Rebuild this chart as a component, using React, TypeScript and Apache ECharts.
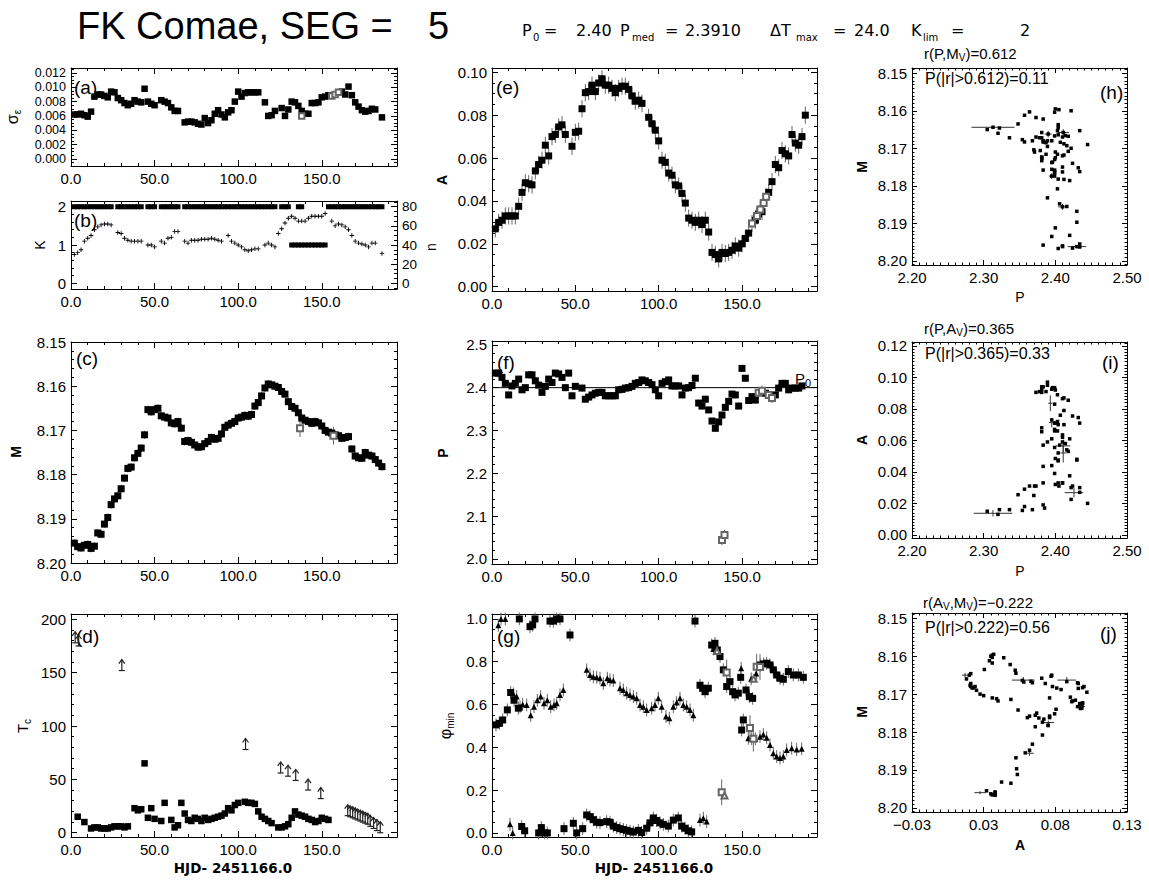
import React, { useEffect, useRef } from 'react';
import * as echarts from 'echarts';

const FONT = '"Liberation Sans", Arial, Helvetica, sans-serif';
const WIDE = '"DejaVu Sans", "Liberation Sans", sans-serif';
const W = 1149;
const H = 881;

// ---------------- tick values ----------------
const X_TICKS_T = [0, 50, 100, 150];
const Y_TICKS_SIG = [0, 0.002, 0.004, 0.006, 0.008, 0.01, 0.012];
const Y_TICKS_K = [0, 1, 2];
const Y_TICKS_N = [0, 20, 40, 60, 80];
const Y_TICKS_M = [8.15, 8.16, 8.17, 8.18, 8.19, 8.2];
const Y_TICKS_TC = [0, 50, 100, 150, 200];
const Y_TICKS_AMP = [0, 0.02, 0.04, 0.06, 0.08, 0.1];
const Y_TICKS_P = [2.0, 2.1, 2.2, 2.3, 2.4, 2.5];
const Y_TICKS_PHI = [0, 0.2, 0.4, 0.6, 0.8, 1.0];
const X_TICKS_P = [2.2, 2.3, 2.4, 2.5];
const Y_TICKS_AMP2 = [0, 0.02, 0.04, 0.06, 0.08, 0.1, 0.12];
const X_TICKS_AMP = [-0.025, 0.025, 0.075, 0.125];
const X_LABELS_AMP = ['\u22120.03', '0.03', '0.08', '0.13'];

// ---------------- (a) sigma_e vs t ----------------
const SIG_A = [
  [2, 0.0062], [4, 0.0062], [6, 0.0063], [8, 0.0061], [10, 0.0059], [12, 0.0066], [14, 0.0087], [16, 0.009],
  [18, 0.009], [20, 0.0088], [22, 0.0086], [24, 0.0094], [26, 0.0093], [28, 0.0085], [30, 0.0082], [32, 0.0078],
  [34, 0.0075], [36, 0.0077], [38, 0.0082], [40, 0.008], [42, 0.0079], [44, 0.0098], [46, 0.008], [48, 0.0077],
  [50, 0.0075], [54, 0.0082], [56, 0.008], [58, 0.0078], [60, 0.0072], [62, 0.0067], [64, 0.0067], [68, 0.0051],
  [70, 0.0052], [72, 0.0052], [74, 0.0051], [76, 0.0049], [78, 0.0048], [80, 0.0057], [82, 0.005], [84, 0.0054],
  [86, 0.0063], [88, 0.0068], [90, 0.0062], [92, 0.0058], [94, 0.0065], [96, 0.0068], [98, 0.008], [100, 0.0094],
  [102, 0.0087], [104, 0.0092], [106, 0.0093], [108, 0.0093], [110, 0.0093], [112, 0.0093], [116, 0.0079],
  [118, 0.006], [120, 0.0061], [122, 0.0067], [126, 0.0071], [128, 0.006], [130, 0.0069], [132, 0.008],
  [134, 0.0079], [136, 0.0074], [138, 0.0067], [140, 0.0063], [142, 0.0063], [144, 0.0078], [146, 0.0078],
  [148, 0.0079], [150, 0.0086], [152, 0.0087], [154, 0.0089], [162, 0.0094], [164, 0.009], [166, 0.0101],
  [168, 0.0089], [170, 0.0079], [172, 0.0073], [174, 0.0068], [176, 0.0066], [178, 0.0067], [180, 0.007],
  [182, 0.0069], [186, 0.0058],
];
const SIG_A_OPEN = [[138, 0.006], [156, 0.0088], [158, 0.009], [160, 0.0093]];

// ---------------- (b) K and n vs t ----------------
const K_TWO_T = [
  2, 4, 6, 8, 10, 12, 14, 16, 18, 20, 22, 24, 28, 30, 32, 34, 36, 38, 40, 42, 46, 48, 50, 54, 56, 58, 60, 62, 64,
  68, 70, 72, 74, 76, 78, 80, 82, 84, 86, 88, 90, 92, 94, 96, 98, 100, 102, 104, 106, 108, 110, 112, 114, 116,
  118, 120, 122, 126, 128, 130, 136, 138, 154, 156, 158, 160, 162, 164, 166, 168, 170, 172, 174, 176, 178, 180,
  182, 184, 186,
];
const K_ONE_T = [132, 134, 136, 138, 140, 142, 144, 146, 148, 150, 152];
const N_B = [
  [2, 30], [4, 32], [6, 35], [8, 44], [10, 47], [12, 50], [14, 56], [16, 59], [18, 61], [20, 62], [22, 62],
  [24, 61], [28, 53], [30, 52], [32, 47], [34, 45], [36, 44], [38, 44], [40, 44], [42, 44], [46, 40], [48, 40],
  [50, 38], [54, 44], [56, 42], [58, 47], [60, 48], [62, 54], [64, 54], [68, 44], [70, 42], [72, 45], [74, 45],
  [76, 45], [78, 46], [80, 46], [82, 46], [84, 47], [86, 46], [88, 45], [90, 44], [94, 50], [96, 44], [98, 42],
  [100, 40], [102, 38], [104, 35], [106, 34], [108, 35], [110, 36], [112, 36], [116, 40], [118, 42], [120, 40],
  [122, 38], [124, 52], [126, 57], [128, 63], [130, 68], [132, 70], [134, 68], [136, 65], [138, 65], [140, 65],
  [142, 68], [144, 70], [146, 70], [148, 70], [150, 70], [152, 73], [156, 65], [158, 60], [160, 62], [162, 61],
  [164, 59], [166, 56], [168, 50], [170, 44], [172, 42], [174, 41], [176, 40], [178, 38], [180, 42], [182, 42],
  [186, 31],
];

// ---------------- (c) M vs t ----------------
const M_C = [
  [2, 8.1955], [4, 8.1963], [6, 8.1966], [8, 8.196], [10, 8.1958], [12, 8.1967], [14, 8.1962], [16, 8.1932],
  [18, 8.1935], [20, 8.1912], [22, 8.1897], [24, 8.1868], [26, 8.1855], [28, 8.1848], [30, 8.1832], [32, 8.1808],
  [34, 8.1786], [36, 8.1783], [38, 8.1762], [40, 8.1752], [42, 8.174], [44, 8.171], [46, 8.1653], [48, 8.1658],
  [50, 8.1653], [52, 8.165], [54, 8.1667], [56, 8.167], [58, 8.1672], [60, 8.1683], [62, 8.1685], [64, 8.168],
  [66, 8.1695], [68, 8.1725], [70, 8.1723], [72, 8.1727], [74, 8.1733], [76, 8.1738], [78, 8.1737], [80, 8.173],
  [82, 8.1725], [84, 8.1716], [86, 8.172], [88, 8.1718], [90, 8.1708], [92, 8.1693], [94, 8.1688], [96, 8.1684],
  [98, 8.168], [100, 8.1672], [102, 8.167], [104, 8.1666], [106, 8.1668], [108, 8.1664], [110, 8.1645],
  [112, 8.1637], [114, 8.1622], [116, 8.1604], [118, 8.1595], [120, 8.1597], [122, 8.16], [124, 8.1603],
  [126, 8.1612], [128, 8.1618], [130, 8.1635], [132, 8.1646], [134, 8.165], [136, 8.166], [138, 8.1672],
  [140, 8.1677], [142, 8.168], [144, 8.1684], [146, 8.168], [148, 8.1683], [150, 8.169], [152, 8.17],
  [154, 8.1704], [156, 8.1706], [158, 8.171], [160, 8.1712], [162, 8.1718], [164, 8.1716], [166, 8.1714],
  [168, 8.1742], [170, 8.1758], [172, 8.1762], [174, 8.1763], [176, 8.175], [178, 8.1756], [180, 8.1758],
  [182, 8.1766], [184, 8.1774], [186, 8.1782],
];
const M_C_OPEN = [[137, 8.1695], [157, 8.1712]];
const ERR_M = 0.0009;

// ---------------- (d) Tc vs t ----------------
const TC_SQ = [
  [4, 15], [8, 10], [12, 4], [14, 5], [16, 5], [18, 4], [20, 4], [22, 4], [24, 5], [26, 6], [28, 6], [30, 6],
  [32, 5], [34, 6], [38, 23], [40, 21], [42, 22], [44, 65], [46, 14], [48, 23], [50, 13], [54, 11], [56, 28],
  [60, 12], [62, 5], [64, 7], [66, 28], [68, 18], [70, 12], [72, 11], [74, 14], [76, 13], [78, 11], [80, 14],
  [82, 12], [84, 13], [86, 14], [88, 15], [90, 16], [92, 18], [94, 23], [96, 21], [98, 26], [100, 28],
  [104, 29], [106, 28], [108, 28], [110, 27], [112, 20], [114, 15], [116, 13], [118, 11], [120, 9], [124, 5],
  [126, 5], [128, 6], [130, 8], [132, 14], [134, 20], [136, 17], [138, 16], [140, 15], [142, 13], [144, 12],
  [146, 10], [148, 11], [150, 14], [152, 13], [154, 12],
];
const TC_LIM = [
  [2.5, 178], [4.5, 175], [30.4, 152], [104.4, 78], [125.4, 56], [129.8, 53], [134.4, 49], [141.8, 40],
  [149.4, 32], [165.5, 16], [167, 15], [168.5, 14], [170, 13], [171.5, 12], [173, 11], [174.5, 10], [176, 9],
  [177.5, 8], [179, 6], [181, 4], [183, 2], [185, 0],
];

// ---------------- (e) A vs t ----------------
const A_E = [
  [2, 0.027], [4, 0.03], [6, 0.031], [8, 0.033], [10, 0.033], [12, 0.033], [14, 0.033], [16, 0.0375],
  [18, 0.044], [20, 0.0485], [22, 0.048], [24, 0.0475], [26, 0.054], [28, 0.057], [30, 0.059], [32, 0.066],
  [34, 0.061], [36, 0.07], [38, 0.071], [40, 0.0745], [42, 0.0755], [44, 0.071], [48, 0.0655], [50, 0.072],
  [52, 0.0725], [54, 0.083], [56, 0.0905], [58, 0.091], [60, 0.094], [62, 0.091], [64, 0.095], [66, 0.097],
  [68, 0.094], [70, 0.094], [72, 0.0925], [74, 0.0905], [76, 0.0925], [78, 0.0935], [80, 0.0935], [82, 0.092],
  [84, 0.089], [86, 0.0865], [88, 0.087], [90, 0.0855], [94, 0.079], [96, 0.076], [98, 0.073], [100, 0.068],
  [102, 0.059], [104, 0.058], [106, 0.053], [108, 0.052], [110, 0.0475], [112, 0.047], [114, 0.0435],
  [116, 0.039], [118, 0.032], [120, 0.031], [122, 0.03], [124, 0.031], [126, 0.029], [128, 0.031],
  [130, 0.0255], [132, 0.016], [134, 0.015], [136, 0.013], [138, 0.016], [140, 0.0155], [142, 0.016],
  [144, 0.017], [146, 0.019], [148, 0.018], [150, 0.02], [152, 0.0225], [154, 0.025], [158, 0.031],
  [160, 0.034], [162, 0.035], [166, 0.044], [168, 0.049], [170, 0.057], [172, 0.0555], [174, 0.0635],
  [176, 0.062], [178, 0.061], [180, 0.071], [182, 0.067], [184, 0.066], [186, 0.07], [188, 0.08],
];
const A_E_OPEN = [[156, 0.0295], [159, 0.033], [161, 0.036], [163, 0.039], [164.5, 0.042]];
const ERR_A = 0.004;

// ---------------- (f) P vs t ----------------
const P_F = [
  [2, 2.434], [4, 2.434], [6, 2.424], [8, 2.41], [10, 2.383], [12, 2.404], [14, 2.41], [16, 2.42], [18, 2.395],
  [20, 2.4], [22, 2.43], [24, 2.43], [26, 2.416], [28, 2.406], [30, 2.389], [32, 2.403], [34, 2.42], [36, 2.412],
  [38, 2.434], [40, 2.432], [42, 2.424], [44, 2.4], [46, 2.434], [48, 2.381], [50, 2.403], [54, 2.399],
  [56, 2.373], [58, 2.378], [60, 2.383], [62, 2.387], [64, 2.389], [66, 2.389], [68, 2.381], [70, 2.381],
  [72, 2.381], [74, 2.381], [76, 2.395], [78, 2.396], [80, 2.399], [82, 2.4], [84, 2.403], [86, 2.41],
  [88, 2.412], [90, 2.418], [92, 2.416], [94, 2.412], [96, 2.407], [98, 2.395], [100, 2.381], [102, 2.41],
  [104, 2.414], [106, 2.418], [108, 2.404], [110, 2.404], [112, 2.404], [114, 2.383], [116, 2.399], [118, 2.4],
  [120, 2.405], [122, 2.422], [124, 2.364], [126, 2.357], [128, 2.373], [130, 2.348], [132, 2.322],
  [134, 2.305], [136, 2.32], [138, 2.336], [140, 2.354], [142, 2.368], [144, 2.385], [146, 2.383], [148, 2.357],
  [150, 2.445], [152, 2.422], [154, 2.37], [156, 2.379], [158, 2.371], [164, 2.387], [170, 2.383], [172, 2.399],
  [174, 2.41], [176, 2.41], [178, 2.395], [180, 2.399], [182, 2.399], [184, 2.399], [186, 2.404],
];
const P_F_OPEN = [[138, 2.044], [139.5, 2.056], [160, 2.388], [162, 2.393], [166, 2.383], [168, 2.376]];
const P0 = 2.4;
const ERR_P = 0.008;

// ---------------- (g) phase of minima vs t ----------------
const PHI_SQ = [
  [2.4, 0.505], [4.4, 0.512], [6.4, 0.528], [9.2, 0.575], [11.2, 0.656], [13.2, 0.62], [15.8, 0.583],
  [16.4, 1.0], [22.8, 0.964], [24.4, 0.972], [25.8, 1.0], [34.8, 0.99], [36.8, 0.99], [38.8, 1.0], [40.8, 1.0],
  [46.8, 0.925], [121.8, 0.99],
  [17.8, 0.03], [19.6, 0.01], [28, 0.0], [29.6, 0.025], [31.6, 0.0], [33.2, 0.0], [43.2, 0.02], [48.8, 0.045],
  [50.8, 0.0], [54.4, 0.02], [56.8, 0.084], [58.8, 0.076], [60.8, 0.062], [62.8, 0.05], [64.8, 0.048],
  [68.8, 0.053], [70.8, 0.05], [72.8, 0.032], [74.8, 0.025], [76.8, 0.02], [78.8, 0.016], [80.8, 0.012],
  [82.8, 0.008], [84.8, 0.004], [87.8, 0.012], [89.8, 0.002], [92.8, 0.022], [94.8, 0.047], [96.8, 0.07],
  [98.8, 0.058], [100.8, 0.047], [102.8, 0.04], [105.8, 0.032], [108.8, 0.06], [111.8, 0.07], [113.8, 0.032],
  [115.8, 0.022], [117.8, 0.01], [119.8, 0.005],
  [124.8, 0.69], [126.4, 0.676], [127.8, 0.66], [129.8, 0.676], [131.8, 0.878], [133.8, 0.886], [135.2, 0.855],
  [136.8, 0.824], [138.8, 0.762], [140.8, 0.684], [142.8, 0.707], [144.4, 0.66], [145.8, 0.645], [147.8, 0.653],
  [149.2, 0.727], [149.8, 0.481], [150.8, 0.528], [152.4, 0.668], [154.4, 0.637], [156.4, 0.629], [161, 0.785],
  [163, 0.79], [164.8, 0.793], [166.8, 0.785], [168.8, 0.762], [170.8, 0.738], [172.8, 0.723], [174.8, 0.718],
  [177.8, 0.754], [180.8, 0.738], [183.8, 0.738], [186.8, 0.727],
];
const PHI_TRI = [
  [3.8, 0.97], [5.4, 1.0], [8, 1.0], [10.8, 0.04], [12.4, 0.0],
  [12.8, 0.65], [14.8, 0.637], [16.8, 0.59], [18.4, 0.6], [20.8, 0.598], [23.2, 0.55], [25.2, 0.59],
  [27.2, 0.62], [29.2, 0.637], [31.2, 0.606], [33.2, 0.62], [35.2, 0.59], [37.2, 0.598], [38.8, 0.606],
  [40.8, 0.645], [42.8, 0.668],
  [56.8, 0.762], [58.8, 0.738], [60.8, 0.73], [62.8, 0.727], [64.8, 0.723], [66.8, 0.699], [69.2, 0.723],
  [70.8, 0.715], [72.8, 0.712], [76.8, 0.676], [78.8, 0.668], [80.8, 0.653], [82.8, 0.645], [84.8, 0.637],
  [86.8, 0.629], [88.8, 0.598], [90.8, 0.59], [92.8, 0.575], [95.8, 0.583], [97.8, 0.598], [99.8, 0.629],
  [101.8, 0.59], [104.4, 0.544], [106.4, 0.536], [108.8, 0.59], [110.8, 0.609], [112.8, 0.629], [114.8, 0.598],
  [116.8, 0.59], [118.8, 0.575], [120.8, 0.55],
  [124.8, 0.06], [126.8, 0.069], [128.8, 0.053], [132.8, 0.86], [149.5, 0.77], [155.5, 0.72], [158.5, 0.745],
  [153.8, 0.442], [155.8, 0.44], [158, 0.44], [160.8, 0.45], [162.8, 0.46], [164.8, 0.445], [166.8, 0.411],
  [168.8, 0.372], [170.8, 0.357], [172.8, 0.35], [174.8, 0.357], [176.8, 0.388], [179.8, 0.396], [182.8, 0.39],
  [185.8, 0.393],
];
const PHI_SQ_OPEN = [[137.8, 0.19], [140.8, 0.75], [154.8, 0.49], [156.8, 0.44], [158.8, 0.777], [160.8, 0.775]];
const PHI_TRI_OPEN = [[135, 0.85], [139.5, 0.175], [157, 0.72]];
const ERR_PHI = 0.03;

// ---------------- (h)(i)(j) crosses with error bars: [x, y, dy, dx] ----------------
const CROSS_H = [
  [2.313, 8.1644, 0.0004, 0.03], [2.39, 8.1662, 0.0009, 0.005], [2.411, 8.1658, 0.0009, 0.008],
  [2.395, 8.1774, 0.0008, 0.004], [2.41, 8.1856, 0.0008, 0.006], [2.43, 8.1962, 0.0004, 0.013],
];
const CROSS_I = [
  [2.313, 0.0137, 0.002, 0.027], [2.393, 0.0836, 0.005, 0.003], [2.395, 0.0713, 0.003, 0.004],
  [2.411, 0.0565, 0.004, 0.01], [2.411, 0.052, 0.006, 0.004], [2.426, 0.0268, 0.003, 0.013],
];
const CROSS_J = [
  [0.012, 8.165, 0.0006, 0.002], [0.0527, 8.1663, 0.0008, 0.008], [0.083, 8.1663, 0.0008, 0.0065],
  [0.0927, 8.1733, 0.0004, 0.003], [0.0701, 8.1775, 0.0005, 0.004], [0.0569, 8.1856, 0.0007, 0.003],
  [0.0225, 8.196, 0.0004, 0.004],
];

// ---------------- layout (px) ----------------
const BOX: Record<string, number[]> = {
  a: [71, 68, 397, 166], b: [71, 201, 397, 289], c: [71, 342, 397, 563], d: [71, 614, 397, 837],
  e: [492, 68, 817, 291], f: [492, 341, 817, 564], g: [492, 614, 817, 837],
  h: [912, 68, 1127, 265], i: [912, 342, 1127, 538], j: [912, 613, 1127, 812],
};

type Spec = {
  min: number; max: number; major: number[]; minor: number[]; fmt: (v: number) => string;
  inverse?: boolean; fontSize?: number;
};

function minors(min: number, max: number, step: number, anchor = 0): number[] {
  const out: number[] = [];
  const k0 = Math.ceil((min - anchor) / step - 1e-9);
  for (let k = k0; anchor + k * step <= max + 1e-12; k++) out.push(+(anchor + k * step).toFixed(6));
  return out;
}

const fx = (d: number) => (v: number) => v.toFixed(d);

function axisCfg(gi: number, s: Spec, position: string, line: boolean, labels: boolean, ticks: number[], len: number) {
  return {
    type: 'value', gridIndex: gi, position, min: s.min, max: s.max, inverse: !!s.inverse, scale: true,
    axisLine: { show: line, onZero: false, lineStyle: { color: '#000', width: 1 } },
    axisTick: { show: true, inside: true, length: len, customValues: ticks, lineStyle: { color: '#000', width: 1 } },
    axisLabel: {
      show: labels, customValues: s.major, formatter: (v: number) => s.fmt(v),
      fontSize: s.fontSize || 15, fontFamily: FONT, color: '#000', margin: 5,
      hideOverlap: false, showMinLabel: true, showMaxLabel: true,
    },
    splitLine: { show: false }, splitArea: { show: false }, minorTick: { show: false },
    axisPointer: { show: false }, silent: true,
  };
}

let measureCtx: CanvasRenderingContext2D | null = null;
function tw(text: string, size: number, weight = 'normal', family = FONT): number {
  if (!measureCtx) measureCtx = document.createElement('canvas').getContext('2d');
  if (!measureCtx) return text.length * size * 0.55;
  measureCtx.font = `${weight} ${size}px ${family}`;
  return measureCtx.measureText(text).width;
}

type Piece = [string, number, number?];
function textRun(x: number, y: number, pieces: Piece[], weight = 'normal', align = 'left', family = FONT): any[] {
  const total = pieces.reduce((s, p) => s + tw(p[0], p[1], weight, family), 0);
  let cx = align === 'center' ? x - total / 2 : x;
  const els: any[] = [];
  for (const [t, size, dy] of pieces) {
    els.push({
      type: 'text', x: cx, y: y + (dy || 0), silent: true,
      style: {
        text: t, fontSize: size, fontFamily: family, fontWeight: weight, fill: '#000',
        textAlign: 'left', textVerticalAlign: 'middle', align: 'left', verticalAlign: 'middle',
      },
    });
    cx += tw(t, size, weight, family);
  }
  return els;
}
function rotName(x: number, y: number, pieces: Piece[], weight = 'bold'): any {
  return { type: 'group', x, y, rotation: Math.PI / 2, silent: true, children: textRun(0, 0, pieces, weight, 'center') };
}

function scat(xi: number, yi: number, data: any[], symbol: string, size: number, color = '#000', z = 4) {
  const empty = symbol.startsWith('empty');
  return {
    type: 'scatter', xAxisIndex: xi, yAxisIndex: yi, data, symbol, symbolSize: size, silent: true, z,
    itemStyle: { color, borderColor: color, borderWidth: empty ? 1 : 0, opacity: 1 },
    emphasis: { disabled: true },
  };
}

function bars(xi: number, yi: number, rows: number[][], color = '#666', z = 2) {
  return {
    type: 'custom', xAxisIndex: xi, yAxisIndex: yi, silent: true, z, data: rows,
    encode: { x: 0, y: 1 },
    itemStyle: { color },
    renderItem: (_p: any, api: any) => {
      const x = api.value(0), y = api.value(1), ey = api.value(2), ex = api.value(3);
      const kids: any[] = [];
      if (ey > 0) {
        const a = api.coord([x, y - ey]), b = api.coord([x, y + ey]);
        kids.push({ type: 'line', shape: { x1: a[0], y1: a[1], x2: b[0], y2: b[1] }, style: { stroke: color, lineWidth: 1 } });
      }
      if (ex > 0) {
        const a = api.coord([x - ex, y]), b = api.coord([x + ex, y]);
        kids.push({ type: 'line', shape: { x1: a[0], y1: a[1], x2: b[0], y2: b[1] }, style: { stroke: color, lineWidth: 1 } });
      }
      return { type: 'group', children: kids };
    },
  };
}

function arrows(xi: number, yi: number, rows: number[][]) {
  return {
    type: 'custom', xAxisIndex: xi, yAxisIndex: yi, silent: true, z: 4, data: rows,
    encode: { x: 0, y: 1 },
    itemStyle: { color: '#222' },
    renderItem: (_p: any, api: any) => {
      const p = api.coord([api.value(0), api.value(1)]);
      const x = p[0], y = p[1];
      const st = { stroke: '#222', lineWidth: 1.2, fill: 'none' };
      return {
        type: 'group', children: [
          { type: 'line', shape: { x1: x, y1: y, x2: x, y2: y - 11 }, style: st },
          { type: 'polyline', shape: { points: [[x - 3, y - 7], [x, y - 11], [x + 3, y - 7]] }, style: st },
          { type: 'line', shape: { x1: x - 3, y1: y, x2: x + 3, y2: y }, style: st },
        ],
      };
    },
  };
}

function buildOption() {
  const grids: any[] = [], xAxes: any[] = [], yAxes: any[] = [], series: any[] = [];

  function panel(box: number[], xs: Spec, ys: Spec, ys2?: Spec, maj = 6, mn = 3) {
    const gi = grids.length;
    grids.push({ left: box[0], top: box[1], width: box[2] - box[0], height: box[3] - box[1], show: false, containLabel: false });
    const xi = xAxes.length;
    xAxes.push(axisCfg(gi, xs, 'bottom', true, true, xs.major, maj));
    xAxes.push(axisCfg(gi, xs, 'bottom', false, false, xs.minor, mn));
    xAxes.push(axisCfg(gi, xs, 'top', true, false, xs.major, maj));
    xAxes.push(axisCfg(gi, xs, 'top', false, false, xs.minor, mn));
    const yi = yAxes.length;
    const r = ys2 || ys;
    yAxes.push(axisCfg(gi, ys, 'left', true, true, ys.major, maj));
    yAxes.push(axisCfg(gi, ys, 'left', false, false, ys.minor, mn));
    yAxes.push(axisCfg(gi, r, 'right', true, !!ys2, r.major, maj));
    yAxes.push(axisCfg(gi, r, 'right', false, false, r.minor, mn));
    return { xi, yi, yi2: yi + 2 };
  }

  const xT: Spec = { min: 0, max: 195, major: X_TICKS_T, minor: minors(0, 195, 10), fmt: fx(1) };
  const xP: Spec = { min: 2.2, max: 2.5, major: X_TICKS_P, minor: minors(2.2, 2.5, 0.01), fmt: fx(2) };
  const xA: Spec = {
    min: -0.025, max: 0.125, major: X_TICKS_AMP, minor: minors(-0.025, 0.125, 0.005, -0.025),
    fmt: (v: number) => {
      let best = 0;
      X_TICKS_AMP.forEach((t, k) => { if (Math.abs(t - v) < Math.abs(X_TICKS_AMP[best] - v)) best = k; });
      return X_LABELS_AMP[best];
    },
  };
  const yM3: Spec = { min: 8.1486, max: 8.2011, inverse: true, major: Y_TICKS_M, minor: minors(8.1486, 8.2011, 0.001), fmt: fx(2) };

  // (a)
  const pa = panel(BOX.a, xT, {
    min: -0.001, max: 0.0127, major: Y_TICKS_SIG, minor: minors(-0.001, 0.0127, 0.0005), fmt: fx(3), fontSize: 12.5,
  });
  series.push(scat(pa.xi, pa.yi, SIG_A, 'rect', 6.5));
  series.push(scat(pa.xi, pa.yi, SIG_A_OPEN, 'emptyRect', 5.5, '#666'));

  // (b)
  const pb = panel(BOX.b, xT,
    { min: -0.15, max: 2.15, major: Y_TICKS_K, minor: minors(-0.15, 2.15, 0.2), fmt: fx(0) },
    { min: -6, max: 86, major: Y_TICKS_N, minor: minors(-6, 86, 5), fmt: fx(0), fontSize: 13.5 });
  series.push(scat(pb.xi, pb.yi, K_TWO_T.map((t) => [t, 2]), 'rect', 5));
  series.push(scat(pb.xi, pb.yi, K_ONE_T.map((t) => [t, 1]), 'rect', 5));
  series.push(scat(pb.xi, pb.yi2, N_B, 'path://M2,0H3V2H5V3H3V5H2V3H0V2H2Z', 4.5));

  // (c)
  const pc = panel(BOX.c, xT, { min: 8.15, max: 8.2, inverse: true, major: Y_TICKS_M, minor: minors(8.15, 8.2, 0.002), fmt: fx(2) });
  series.push(bars(pc.xi, pc.yi, M_C.map(([t, v]) => [t, v, ERR_M, 0])));
  series.push(bars(pc.xi, pc.yi, M_C_OPEN.map(([t, v]) => [t, v, 0.002, 0])));
  series.push(scat(pc.xi, pc.yi, M_C, 'rect', 7));
  series.push(scat(pc.xi, pc.yi, M_C_OPEN, 'emptyRect', 6, '#666'));

  // (d)
  const pd = panel(BOX.d, xT, { min: -4, max: 205, major: Y_TICKS_TC, minor: minors(-4, 205, 10), fmt: fx(0) });
  series.push(scat(pd.xi, pd.yi, TC_SQ, 'rect', 6.5));
  series.push(arrows(pd.xi, pd.yi, TC_LIM));

  // (e)
  const pe = panel(BOX.e, xT, { min: -0.002, max: 0.102, major: Y_TICKS_AMP, minor: minors(-0.002, 0.102, 0.005), fmt: fx(2) });
  series.push(bars(pe.xi, pe.yi, A_E.map(([t, v]) => [t, v, ERR_A, 0])));
  series.push(bars(pe.xi, pe.yi, A_E_OPEN.map(([t, v]) => [t, v, ERR_A, 0])));
  series.push(scat(pe.xi, pe.yi, A_E, 'rect', 7));
  series.push(scat(pe.xi, pe.yi, A_E_OPEN, 'emptyRect', 6, '#666'));

  // (f)
  const pf = panel(BOX.f, xT, { min: 1.988, max: 2.509, major: Y_TICKS_P, minor: minors(1.988, 2.509, 0.02), fmt: fx(1) });
  series.push({
    type: 'line', xAxisIndex: pf.xi, yAxisIndex: pf.yi, data: [[0, P0], [195, P0]], symbol: 'none', showSymbol: false,
    silent: true, z: 3, color: '#000', itemStyle: { color: '#000' }, lineStyle: { color: '#000', width: 1 },
  });
  series.push(bars(pf.xi, pf.yi, P_F.map(([t, v]) => [t, v, ERR_P, 0])));
  series.push(bars(pf.xi, pf.yi, P_F_OPEN.map(([t, v]) => [t, v, ERR_P * 1.5, 0])));
  series.push(scat(pf.xi, pf.yi, P_F, 'rect', 7));
  series.push(scat(pf.xi, pf.yi, P_F_OPEN, 'emptyRect', 6, '#666'));

  // (g)
  const pg = panel(BOX.g, xT, { min: -0.019, max: 1.023, major: Y_TICKS_PHI, minor: minors(-0.019, 1.023, 0.05), fmt: fx(1) });
  series.push(bars(pg.xi, pg.yi, PHI_SQ.map(([t, v]) => [t, v, ERR_PHI, 0])));
  series.push(bars(pg.xi, pg.yi, PHI_TRI.map(([t, v]) => [t, v, ERR_PHI, 0])));
  series.push(bars(pg.xi, pg.yi, PHI_SQ_OPEN.map(([t, v]) => [t, v, ERR_PHI * 2, 0])));
  series.push(scat(pg.xi, pg.yi, PHI_SQ, 'rect', 7));
  series.push(scat(pg.xi, pg.yi, PHI_TRI, 'triangle', 6));
  series.push(scat(pg.xi, pg.yi, PHI_SQ_OPEN, 'emptyRect', 6, '#666'));
  series.push(scat(pg.xi, pg.yi, PHI_TRI_OPEN, 'emptyTriangle', 6, '#666'));

  // correlation scatters built by pairing the time series at equal times
  const mMap = new Map(M_C.map(([t, v]) => [t, v]));
  const aMap = new Map(A_E.map(([t, v]) => [t, v]));
  const H_PTS = P_F.filter(([t]) => mMap.has(t)).map(([t, p]) => [p, mMap.get(t)]);
  const I_PTS = P_F.filter(([t]) => aMap.has(t)).map(([t, p]) => [p, aMap.get(t)]);
  const J_PTS = A_E.filter(([t]) => mMap.has(t)).map(([t, a]) => [a, mMap.get(t)]);

  const ph = panel(BOX.h, xP, yM3, undefined, 5, 2.5);
  series.push(scat(ph.xi, ph.yi, H_PTS, 'rect', 3.5));
  series.push(bars(ph.xi, ph.yi, CROSS_H, '#333'));
  series.push(scat(ph.xi, ph.yi, CROSS_H.map((c) => [c[0], c[1]]), 'rect', 3.5));

  const pi = panel(BOX.i, xP, { min: -0.002, max: 0.1225, major: Y_TICKS_AMP2, minor: minors(-0.002, 0.1225, 0.002), fmt: fx(2) }, undefined, 5, 2.5);
  series.push(scat(pi.xi, pi.yi, I_PTS, 'rect', 3.5));
  series.push(bars(pi.xi, pi.yi, CROSS_I, '#333'));

  const pj = panel(BOX.j, xA, yM3, undefined, 5, 2.5);
  series.push(scat(pj.xi, pj.yi, J_PTS, 'rect', 3.5));
  series.push(bars(pj.xi, pj.yi, CROSS_J, '#333'));

  // ---------------- texts ----------------
  const g: any[] = [];
  g.push(...textRun(77, 26, [['FK Comae, SEG =', 38]]));
  g.push(...textRun(428, 26, [['5', 38]]));
  const subY = 30, subS = 37;
  const SUB: Array<[string, number, number, number]> = [
    ['P', 522, subY, 16], ['0', 533, subS, 10], ['=', 544, subY, 16], ['2.40', 576, subY, 16],
    ['P', 620, subY, 16], ['med', 632, subS, 10], ['=', 665, subY, 16], ['2.3910', 685, subY, 16],
    ['\u0394T', 770, subY, 16], ['max', 796, subS, 10], ['=', 833, subY, 16], ['24.0', 854, subY, 16],
    ['K', 911, subY, 16], ['lim', 923, subS, 10], ['=', 951, subY, 16], ['2', 1020, subY, 16],
  ];
  SUB.forEach(([t, x, y, s]) => g.push(...textRun(x, y, [[t, s]], 'normal', 'left', WIDE)));

  const LETTERS: Array<[string, number, number]> = [
    ['(a)', 74, 87], ['(b)', 74, 220], ['(c)', 76, 358], ['(d)', 76, 636],
    ['(e)', 496, 87], ['(f)', 497, 362], ['(g)', 497, 636],
    ['(h)', 1100, 92], ['(i)', 1102, 362], ['(j)', 1100, 633],
  ];
  LETTERS.forEach(([t, x, y]) => g.push(...textRun(x, y, [[t, 19]])));

  g.push(...textRun(924, 53, [['r(P,M', 15], ['V', 10, 4], [')=0.612', 15]]));
  g.push(...textRun(924, 328, [['r(P,A', 15], ['V', 10, 4], [')=0.365', 15]]));
  g.push(...textRun(923, 602, [['r(A', 15], ['V', 10, 4], [',M', 15], ['V', 10, 4], [')=\u22120.222', 15]]));
  g.push(...textRun(925, 78, [['P(|r|>0.612)=0.11', 16]]));
  g.push(...textRun(925, 353, [['P(|r|>0.365)=0.33', 16]]));
  g.push(...textRun(925, 627, [['P(|r|>0.222)=0.56', 16]]));

  // P0 label in (f)
  g.push(...textRun(795, 378, [['P', 15], ['0', 11, 5]]));

  // axis names
  g.push(rotName(12, 117, [['\u03c3', 16], ['\u03b5', 10, 5]], 'normal'));
  g.push(rotName(40, 245, [['K', 14]], 'normal'));
  g.push(rotName(431, 247, [['n', 14]], 'normal'));
  g.push(rotName(16, 452, [['M', 14]]));
  g.push(rotName(22, 726, [['T', 15], ['c', 10, 5]], 'normal'));
  g.push(rotName(442, 180, [['A', 14]]));
  g.push(rotName(443, 453, [['P', 14]]));
  g.push(rotName(445, 726, [['\u03c6', 16], ['min', 10, 5]], 'normal'));
  g.push(rotName(862, 167, [['M', 14]]));
  g.push(rotName(862, 440, [['A', 14]]));
  g.push(rotName(862, 712, [['M', 14]]));
  g.push(...textRun(233, 868, [['HJD- 2451166.0', 13.5]], 'bold', 'center', WIDE));
  g.push(...textRun(654, 868, [['HJD- 2451166.0', 13.5]], 'bold', 'center', WIDE));
  g.push(...textRun(1020, 297, [['P', 14]], 'normal', 'center'));
  g.push(...textRun(1020, 571, [['P', 14]], 'normal', 'center'));
  g.push(...textRun(1020, 845, [['A', 14]], 'bold', 'center'));

  return {
    animation: false,
    backgroundColor: '#fff',
    color: ['#000'],
    textStyle: { fontFamily: FONT },
    grid: grids,
    xAxis: xAxes,
    yAxis: yAxes,
    series,
    graphic: { elements: g },
  };
}

export default function App() {
  const ref = useRef<HTMLDivElement>(null);
  useEffect(() => {
    if (!ref.current) return;
    const chart = echarts.init(ref.current, undefined, { renderer: 'svg' });
    chart.setOption(buildOption() as any);
    return () => chart.dispose();
  }, []);
  return <div ref={ref} style={{ position: 'absolute', left: 0, top: 0, width: W, height: H, background: '#fff' }} />;
}
